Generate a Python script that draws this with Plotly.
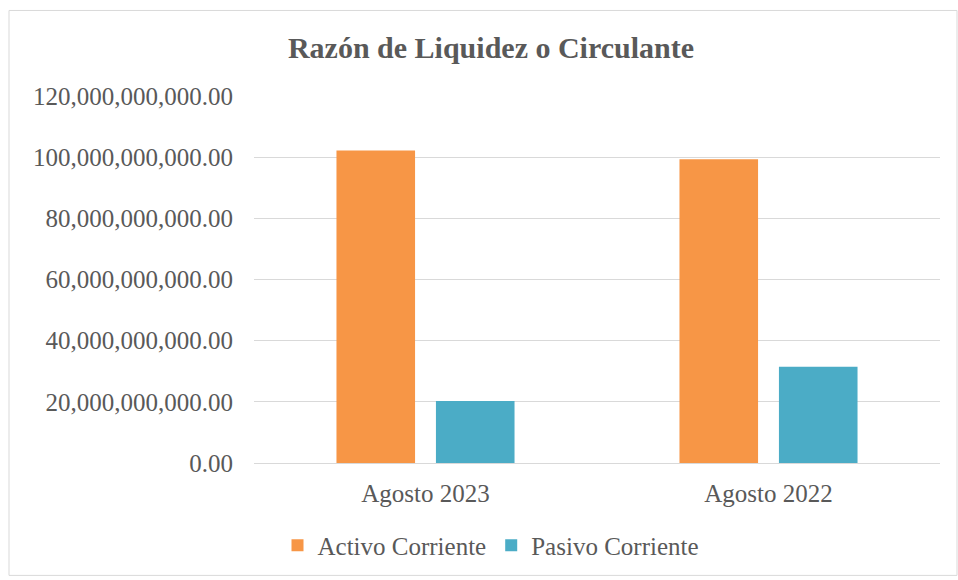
import plotly.graph_objects as go

categories = ["Agosto 2023", "Agosto 2022"]
activo_corriente = [102.2e9, 99.3e9]
pasivo_corriente = [20.3e9, 31.5e9]
tick_values = [0, 20e9, 40e9, 60e9, 80e9, 100e9, 120e9]

FONT = "Liberation Serif"
TXT = "#595959"

fig = go.Figure()
fig.add_bar(name="Activo Corriente", x=categories, y=activo_corriente,
            marker=dict(color="#F79646", line=dict(width=0)))
fig.add_bar(name="Pasivo Corriente", x=categories, y=pasivo_corriente,
            marker=dict(color="#4BACC6", line=dict(width=0)))

L, R, T, B = 254, 18, 96, 115
W, H = 958, 580
pw, ph = W - L - R, H - T - B

fig.update_layout(
    width=W, height=H,
    margin=dict(l=L, r=R, t=T, b=B),
    paper_bgcolor="white", plot_bgcolor="white",
    barmode="group", bargap=0.42, bargroupgap=0.21,
    font=dict(family=FONT, color=TXT, size=25),
    title=dict(text="<b>Razón de Liquidez o Circulante</b>", x=491 / W, xanchor="center",
               y=1 - 47 / H, yanchor="middle", font=dict(family=FONT, size=30, color=TXT)),
    legend=dict(orientation="h", x=(491 - L) / pw, xref="paper", xanchor="center",
                y=(465 - 548) / ph, yanchor="middle",
                font=dict(family=FONT, size=25, color=TXT), itemwidth=30),
    showlegend=True,
)
fig.update_yaxes(range=[0, 120e9], tickvals=tick_values, tickformat=",.2f",
                 showgrid=True, gridcolor="#D9D9D9", gridwidth=1.3, zeroline=False,
                 showline=False, ticks="", ticklabelstandoff=20,
                 tickfont=dict(family=FONT, size=25, color=TXT))
fig.update_xaxes(showline=True, linecolor="#D9D9D9", linewidth=1.3, ticks="",
                 tickfont=dict(family=FONT, size=25, color=TXT), ticklabelstandoff=8)

fig.add_shape(type="rect", xref="paper", yref="paper",
              x0=(9 - L) / pw, x1=(957 - L) / pw,
              y0=(465 - 578) / ph, y1=(465 - 10) / ph,
              line=dict(color="#D9D9D9", width=1), fillcolor="rgba(0,0,0,0)", layer="below")

fig.write_html("out.html", config={"displayModeBar": False},
               post_script="document.body.style.margin='0px';")
